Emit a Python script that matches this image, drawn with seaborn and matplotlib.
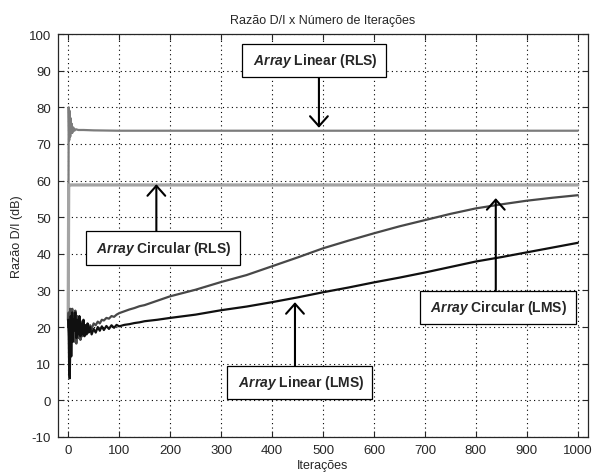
import numpy as np
import pandas as pd
import matplotlib
matplotlib.use("Agg")
import matplotlib.pyplot as plt
import seaborn as sns

# iterations sampled for the LMS curves
it_lms = [0, 1, 2, 3, 4, 5, 6, 7, 8, 9, 10, 12, 14, 16, 18, 20, 22, 24, 26, 28,
          30, 32, 34, 36, 38, 40, 43, 46, 50, 54, 58, 62, 66, 70, 75, 80, 85, 90,
          95, 100, 110, 120, 130, 140, 150, 175, 200, 250, 300, 350, 400, 450,
          500, 550, 600, 650, 700, 750, 800, 850, 900, 950, 1000]

linear_lms = [22, 18, 8, 6, 14, 23, 12, 20, 24, 16, 22, 19, 24, 17, 22, 18, 23,
              17.5, 21, 18, 22, 17.5, 20.5, 18, 21, 18.5, 20, 18, 19.5, 18.5, 20,
              19, 20.2, 19.2, 20.3, 19.5, 20.5, 19.8, 20.6, 20.2, 20.6, 20.8, 21.1,
              21.3, 21.6, 22.0, 22.5, 23.4, 24.6, 25.6, 26.8, 28.1, 29.5, 30.8,
              32.2, 33.5, 34.9, 36.4, 37.9, 39.1, 40.4, 41.7, 43.0]

circular_lms = [20, 24, 15, 22, 25, 13, 24, 16, 25, 18, 23, 16, 24.5, 15.5, 23,
                17, 22, 16.5, 21.5, 17.5, 21, 18, 20.5, 18.5, 20.5, 19, 20.5, 19.5,
                21, 20.5, 21.5, 21, 22, 21.8, 22.5, 22.3, 23, 22.8, 23.4, 23.8,
                24.3, 24.8, 25.2, 25.7, 26.0, 27.2, 28.4, 30.2, 32.3, 34.2, 36.6,
                39.0, 41.5, 43.6, 45.6, 47.5, 49.2, 50.9, 52.4, 53.5, 54.5, 55.3,
                56.0]

# RLS curves converge almost immediately
it_rls = [0, 1, 2, 3, 4, 5, 6, 7, 8, 10, 12, 15, 20, 30, 50, 100, 200, 300, 400,
          500, 600, 700, 800, 900, 1000]
linear_rls = [20, 80, 71, 79, 72, 77, 73, 75.5, 73, 74.5, 73.6, 74, 73.8, 73.8,
              73.7, 73.6, 73.6, 73.6, 73.6, 73.6, 73.6, 73.6, 73.6, 73.6, 73.6]
it_rls_c = [0, 1, 2, 1000]
circular_rls = [22, 58.8, 58.8, 58.8]

labels = ["Array Linear (RLS)", "Array Circular (RLS)",
          "Array Circular (LMS)", "Array Linear (LMS)"]

sns.set_style("ticks")
plt.rcParams['font.family'] = ['Liberation Sans', 'DejaVu Sans']
plt.rcParams['axes.unicode_minus'] = False
plt.rcParams['mathtext.fontset'] = 'custom'
plt.rcParams['mathtext.it'] = 'Liberation Sans:italic:bold'
plt.rcParams['mathtext.rm'] = 'Liberation Sans:bold'

fig = plt.figure(figsize=(5.93, 4.77), dpi=100)
ax = fig.add_axes([0.0978, 0.0818, 0.8938, 0.8448])

sns.lineplot(x=it_rls, y=linear_rls, ax=ax, color='#7c7c7c', lw=1.6,
             estimator=None, sort=False)
sns.lineplot(x=it_rls_c, y=circular_rls, ax=ax, color='#a4a4a4', lw=2.3,
             estimator=None, sort=False)
sns.lineplot(x=it_lms, y=circular_lms, ax=ax, color='#484848', lw=1.6,
             estimator=None, sort=False)
sns.lineplot(x=it_lms, y=linear_lms, ax=ax, color='#101010', lw=1.6,
             estimator=None, sort=False)

ax.set_xlim(-20, 1020)
ax.set_ylim(-10, 100)
ax.set_xticks(np.arange(0, 1001, 100))
ax.set_yticks(np.arange(-10, 101, 10))
ax.tick_params(direction='in', length=4, top=True, right=True,
               labelsize=9.5, width=0.8, pad=5)
for s in ax.spines.values():
    s.set_linewidth(0.9)
ax.grid(True, linestyle=(0, (1, 3)), color='black', lw=0.8)

ax.set_title("Razão D/I x Número de Iterações", fontsize=9, pad=8)
ax.set_xlabel("Iterações", fontsize=9, labelpad=2)
ax.set_ylabel("Razão D/I (dB)", fontsize=9, labelpad=4)

# (text position, arrow tail, arrow head)
notes = [((482, 92.8), (492, 88.3), (492, 74.4)),
         ((186, 41.6), (173, 46.3), (173, 59.0)),
         ((843, 25.4), (839, 30.0), (839, 55.2)),
         ((454, 4.9), (445, 9.4), (445, 26.8))]

for lab, (txt, tail, head) in zip(labels, notes):
    ax.annotate('', xy=head, xytext=tail, zorder=6,
                arrowprops=dict(arrowstyle='->,head_length=0.45,head_width=0.4',
                                lw=1.5, color='black', mutation_scale=16,
                                shrinkA=0, shrinkB=0))
    word, rest = lab.split(' ', 1)
    ax.text(txt[0], txt[1], r" $\mathit{" + word + "}$ " + rest + " ",
            fontsize=10, fontweight='bold', ha='center', va='center', zorder=7,
            bbox=dict(boxstyle='square,pad=0.55', fc='white', ec='black', lw=0.9))

fig.savefig("out.png", dpi=100)
